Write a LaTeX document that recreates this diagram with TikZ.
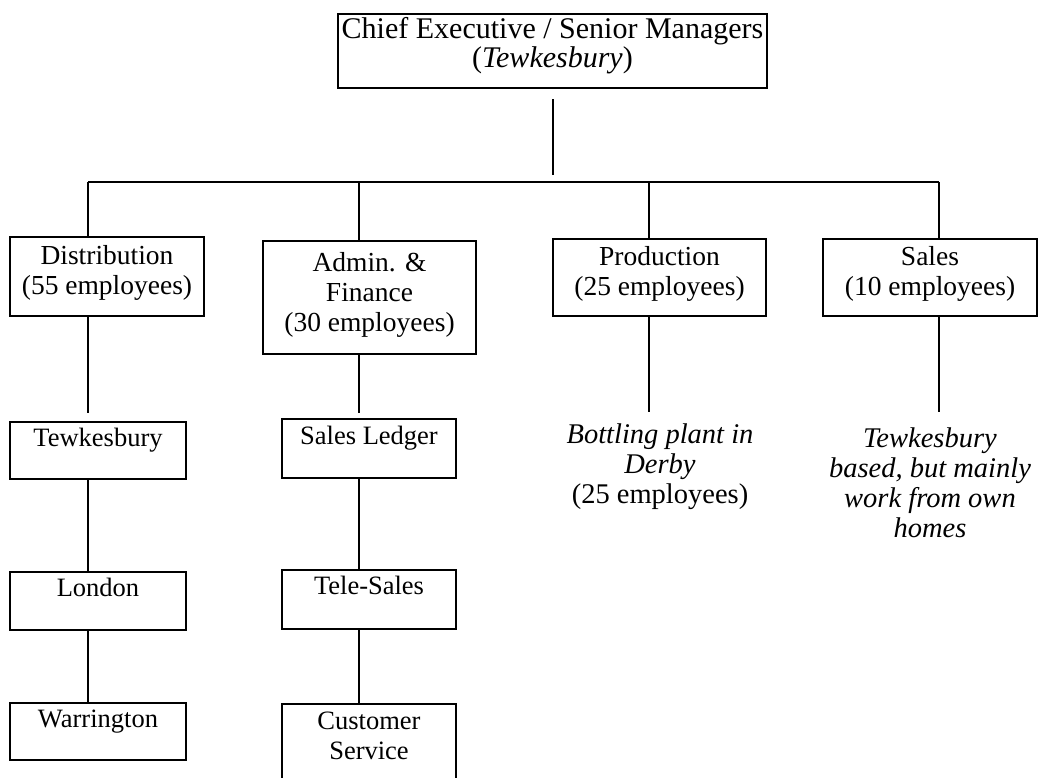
\documentclass[tikz,border=0pt]{standalone}
\usepackage{fontspec}
\setmainfont{Liberation Serif}
\begin{document}
\begin{tikzpicture}[x=1pt,y=-1pt]
\tikzset{
  orgbox/.style={draw, line width=2.2pt, rectangle, inner xsep=0pt, inner ysep=0pt, align=center},
  note/.style={inner sep=0pt, align=center},
  link/.style={draw, line width=2.2pt},
  topfont/.style={font=\fontsize{30}{28.4}\selectfont},
  midfont/.style={font=\fontsize{27.5}{30}\selectfont},
  lowfont/.style={font=\fontsize{26.5}{30}\selectfont},
  notefont/.style={font=\fontsize{28.5}{30}\selectfont},
}
\useasboundingbox (0,0) rectangle (1044,778);
\clip (0,0) rectangle (1044,778);

% head office (text height runs to the baseline of the last line)
\node[orgbox, topfont, minimum width=429pt, text height=53pt, text depth=21pt, anchor=north]
  (chief) at (552.5,13) {Chief Executive / Senior Managers\\(\textit{Tewkesbury})};

% departments
\node[orgbox, midfont, minimum width=194pt, text height=57pt, text depth=22pt, anchor=north]
  (dist) at (107,236) {Distribution\\(55 employees)};
\node[orgbox, midfont, minimum width=213pt, text height=90pt, text depth=23pt, anchor=north]
  (admin) at (369.5,240) {Admin. \&\\Finance\\(30 employees)};
\node[orgbox, midfont, minimum width=213pt, text height=56pt, text depth=21pt, anchor=north]
  (prod) at (659.5,238) {Production\\(25 employees)};
\node[orgbox, midfont, minimum width=214pt, text height=56pt, text depth=21pt, anchor=north]
  (sales) at (930,238) {Sales\\(10 employees)};

% distribution depots
\node[orgbox, lowfont, minimum width=176pt, text height=24pt, text depth=33pt, anchor=north]
  (dTew) at (98,421) {Tewkesbury};
\node[orgbox, lowfont, minimum width=176pt, text height=24pt, text depth=34pt, anchor=north]
  (dLon) at (98,571) {London};
\node[orgbox, lowfont, minimum width=176pt, text height=24pt, text depth=33pt, anchor=north]
  (dWar) at (98,702) {Warrington};

% admin sections
\node[orgbox, lowfont, minimum width=174pt, text height=25pt, text depth=34pt, anchor=north]
  (aLed) at (369,418) {Sales Ledger};
\node[orgbox, lowfont, minimum width=174pt, text height=24pt, text depth=35pt, anchor=north]
  (aTel) at (369,569) {Tele-Sales};
\node[orgbox, lowfont, minimum width=174pt, text height=55pt, text depth=42pt, anchor=north]
  (aCus) at (369,703) {Customer\\Service};

% notes under production and sales
\node[note, notefont, text height=91pt, anchor=north]
  (bott) at (660,412) {\textit{Bottling plant in}\\\textit{Derby}\\(25 employees)};
\node[note, notefont, text height=125pt, anchor=north]
  (home) at (930,412) {\textit{Tewkesbury}\\\textit{based, but mainly}\\\textit{work from own}\\\textit{homes}};

% junction points on the bus
\coordinate (bus) at (553,182);
\coordinate (jd) at (88,182);
\coordinate (ja) at (359,182);
\coordinate (jp) at (649,182);
\coordinate (js) at (939,182);

\draw[link, shorten <=10pt, shorten >=7pt] (bus |- chief.south) -- (bus);
\draw[link] (jd) -- (js);
\draw[link] (jd) -- (jd |- dist.north);
\draw[link] (ja) -- (ja |- admin.north);
\draw[link] (jp) -- (jp |- prod.north);
\draw[link] (js) -- (js |- sales.north);

\draw[link, shorten >=8pt] (jd |- dist.south) -- (jd |- dTew.north);
\draw[link] (jd |- dTew.south) -- (jd |- dLon.north);
\draw[link] (jd |- dLon.south) -- (jd |- dWar.north);

\draw[link, shorten >=5pt] (ja |- admin.south) -- (ja |- aLed.north);
\draw[link] (ja |- aLed.south) -- (ja |- aTel.north);
\draw[link] (ja |- aTel.south) -- (ja |- aCus.north);

\draw[link] (jp |- prod.south) -- (jp |- bott.north);
\draw[link] (js |- sales.south) -- (js |- home.north);
\end{tikzpicture}
\end{document}
